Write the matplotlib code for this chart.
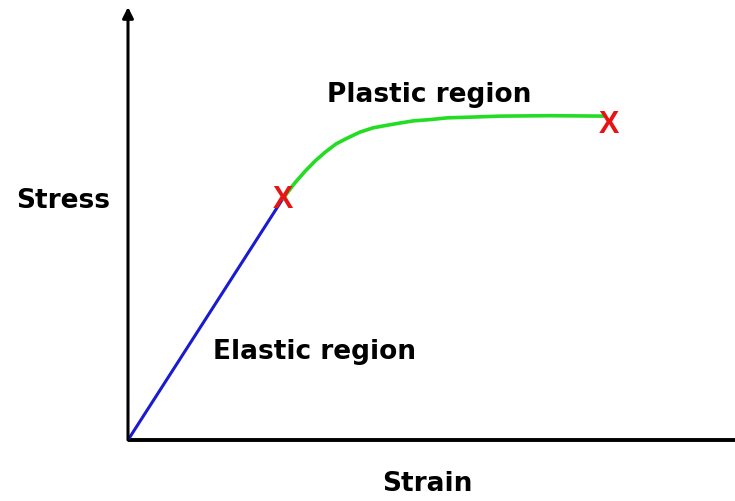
import matplotlib
matplotlib.use('Agg')
import matplotlib.pyplot as plt

# 应力-应变曲线
elastic_strain = [0.0, 2.55]
elastic_stress = [0.0, 5.57]

plastic_strain = [2.55, 2.75, 2.92, 3.08, 3.25, 3.43, 3.61, 3.82, 4.04,
                  4.27, 4.48, 4.70, 4.98, 5.26, 5.72, 6.13, 6.95, 7.83]
plastic_stress = [5.57, 5.94, 6.21, 6.44, 6.65, 6.84, 6.97, 7.11, 7.21,
                  7.27, 7.32, 7.37, 7.40, 7.44, 7.46, 7.48, 7.49, 7.48]

# 屈服点与断裂点（红色 X）
marker_strain = [2.55, 7.92]
marker_stress = [5.57, 7.30]

fig = plt.figure(figsize=(7.35, 5.02), dpi=100)
ax = fig.add_axes([128 / 735, 61 / 502, 607 / 735, 433 / 502])
ax.set_xlim(0, 10)
ax.set_ylim(0, 10)
ax.axis('off')

# 坐标轴
ax.annotate('', xy=(0, 10), xytext=(0, 0),
            arrowprops=dict(arrowstyle='-|>', lw=2.2, color='black',
                            mutation_scale=16, shrinkA=0, shrinkB=0),
            annotation_clip=False)
ax.plot([0, 10], [0, 0], color='black', lw=2.8, clip_on=False,
        solid_capstyle='butt')

# 曲线
ax.plot(elastic_strain, elastic_stress, color='#1a1ad0', lw=2.2,
        solid_capstyle='round')
ax.plot(plastic_strain, plastic_stress, color='#22dd22', lw=2.6,
        solid_capstyle='round', solid_joinstyle='round')

for sx, sy in zip(marker_strain, marker_stress):
    ax.text(sx, sy, 'X', color='#e81414', fontsize=22, fontweight='bold',
            family=['Liberation Sans Narrow', 'Liberation Sans'],
            ha='center', va='center')

# 文字
font = dict(fontsize=19, fontweight='bold', family='DejaVu Sans', color='black')
ax.text(-1.07, 5.38, 'Stress', ha='center', va='baseline', **font)
ax.text(3.28, 7.83, 'Plastic region', ha='left', va='baseline', **font)
ax.text(1.40, 1.89, 'Elastic region', ha='left', va='baseline', **font)
ax.text(4.93, -1.15, 'Strain', ha='center', va='baseline', **font)

fig.savefig('out.png', dpi=100)
